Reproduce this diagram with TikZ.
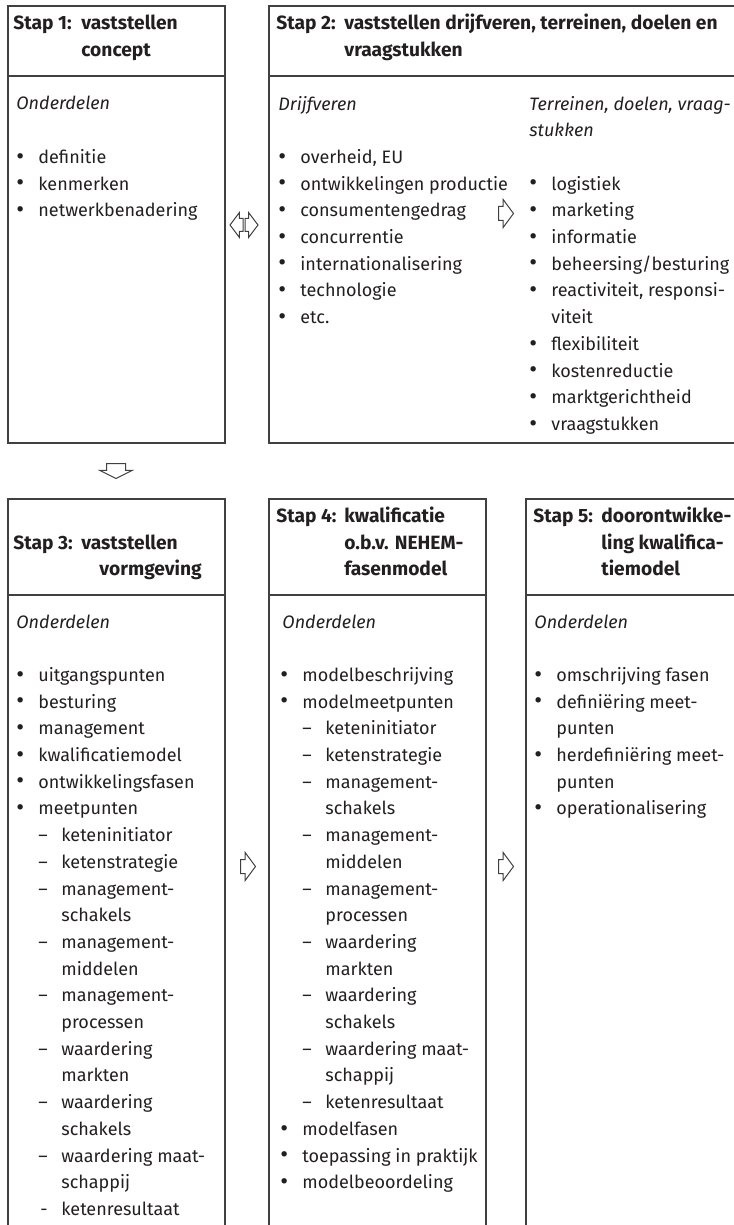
\documentclass[tikz,border=0pt]{standalone}
\usepackage{fontspec}
\setmainfont{Fira Sans}
\usetikzlibrary{shapes.arrows}
\definecolor{inkBlack}{HTML}{231F20}
\definecolor{lineGrey}{HTML}{404040}
\newcommand{\stap}[1]{\makebox[34pt][l]{Stap #1:}}
\newcommand{\hang}{\hspace*{34pt}}
\newcommand{\bolletje}{\raisebox{-0.35pt}{\fontsize{12}{0}\selectfont\textbullet}}
\newcommand{\bul}[1]{\makebox[11pt][l]{\bolletje}#1}
\newcommand{\bulnext}[1]{\hspace*{11pt}#1}
\newcommand{\dsh}[1]{\hspace*{11pt}\makebox[11.5pt][l]{\textendash}#1}
\newcommand{\dshnext}[1]{\hspace*{22.5pt}#1}

\begin{document}
\begin{tikzpicture}[x=0.5pt, y=-0.5pt,
   stapbox/.style={rectangle, draw=lineGrey, line width=0.8pt,
                   anchor=north west, inner sep=0pt},
   kop/.style={anchor=base west, inner sep=0pt, align=left, text=inkBlack,
               font=\fontsize{9.6}{13.35}\selectfont\bfseries},
   lijst/.style={anchor=base west, inner sep=0pt, align=left, text=inkBlack,
                 font=\fontsize{9}{13.35}\selectfont},
   pijl/.style={single arrow, draw=lineGrey, line width=0.5pt, anchor=tail,
                inner xsep=0pt, inner ysep=3.25pt, minimum width=0pt,
                minimum height=7.5pt, single arrow head extend=3.5pt,
                single arrow tip angle=107}]
\useasboundingbox (0,0) rectangle (733,1225);

% boxes
\node[stapbox, minimum width=108.5pt, minimum height=218.5pt] (box1) at (7,5) {};
\node[stapbox, minimum width=251pt, minimum height=218.5pt] (box2) at (268,5) {};
\node[stapbox, minimum width=108.5pt, minimum height=381pt] (box3) at (7,498) {};
\node[stapbox, minimum width=108.5pt, minimum height=381pt] (box4) at (268,498) {};
\node[stapbox, minimum width=122.5pt, minimum height=381pt] (box5) at (525,498) {};

\foreach \b/\y in {box1/76, box2/76, box3/595, box4/595, box5/595}
  \draw[lineGrey, line width=0.8pt] (\b.west |- 0,\y) -- (\b.east |- 0,\y);

% headers (base = last line)
\node[kop] (kop1) at (13,56.7) {\stap{1}vaststellen\\\hang concept};
\node[kop] (kop2) at (276,56.7)
  {\stap{2}vaststellen drijfveren, terreinen, doelen en\\\hang vraagstukken};
\node[kop] (kop3) at (13,575.9) {\stap{3}vaststellen\\\hang\hspace*{9pt}vormgeving};
\node[kop] (kop4) at (276,575.9)
  {\stap{4}kwalificatie\\\hang o.b.v. NEHEM-\\\hang fasenmodel};
\node[kop] (kop5) at (533,575.9)
  {\stap{5}doorontwikke-\\\hang ling kwalifica-\\\hang tiemodel};

% contents (base = last line)
\node[lijst] (inh1) at (16,216.8)
  {\textit{Onderdelen}\\[13.35pt]
   \bul{definitie}\\
   \bul{kenmerken}\\
   \bul{netwerkbenadering}};
\node[lijst] (inh2a) at (278,323.6)
  {\textit{Drijfveren}\\[13.35pt]
   \bul{overheid, EU}\\
   \bul{ontwikkelingen productie}\\
   \bul{consumentengedrag}\\
   \bul{concurrentie}\\
   \bul{internationalisering}\\
   \bul{technologie}\\
   \bul{etc.}};
\node[lijst] (inh2b) at (529,430.4)
  {\textit{Terreinen, doelen, vraag-}\\
   \textit{stukken}\\[13.35pt]
   \bul{logistiek}\\
   \bul{marketing}\\
   \bul{informatie}\\
   \bul{beheersing/besturing}\\
   \bul{reactiviteit, responsi-}\\
   \bulnext{viteit}\\
   \bul{flexibiliteit}\\
   \bul{kostenreductie}\\
   \bul{marktgerichtheid}\\
   \bul{vraagstukken}};
\node[lijst] (inh3) at (16,1215.4)
  {\textit{Onderdelen}\\[13.35pt]
   \bul{uitgangspunten}\\
   \bul{besturing}\\
   \bul{management}\\
   \bul{kwalificatiemodel}\\
   \bul{ontwikkelingsfasen}\\
   \bul{meetpunten}\\
   \dsh{keteninitiator}\\
   \dsh{ketenstrategie}\\
   \dsh{management-}\\
   \dshnext{schakels}\\
   \dsh{management-}\\
   \dshnext{middelen}\\
   \dsh{management-}\\
   \dshnext{processen}\\
   \dsh{waardering}\\
   \dshnext{markten}\\
   \dsh{waardering}\\
   \dshnext{schakels}\\
   \dsh{waardering maat-}\\
   \dshnext{schappij}\\
   \hspace*{11pt}\makebox[11.5pt][l]{\hspace{1pt}-}ketenresultaat};
\node[lijst] (inh4) at (280,1188.7)
  {\hspace*{1pt}\textit{Onderdelen}\\[13.35pt]
   \bul{modelbeschrijving}\\
   \bul{modelmeetpunten}\\
   \dsh{keteninitiator}\\
   \dsh{ketenstrategie}\\
   \dsh{management-}\\
   \dshnext{schakels}\\
   \dsh{management-}\\
   \dshnext{middelen}\\
   \dsh{management-}\\
   \dshnext{processen}\\
   \dsh{waardering}\\
   \dshnext{markten}\\
   \dsh{waardering}\\
   \dshnext{schakels}\\
   \dsh{waardering maat-}\\
   \dshnext{schappij}\\
   \dsh{ketenresultaat}\\
   \bul{modelfasen}\\
   \bul{toepassing in praktijk}\\
   \bul{modelbeoordeling}};
\node[lijst] (inh5) at (534,814.9)
  {\textit{Onderdelen}\\[13.35pt]
   \bul{omschrijving fasen}\\
   \bul{definiëring meet-}\\
   \bulnext{punten}\\
   \bul{herdefiniëring meet-}\\
   \bulnext{punten}\\
   \bul{operationalisering}};

% block arrows
\node[pijl, inner ysep=3pt, single arrow head extend=3pt, minimum height=6.5pt,
      single arrow tip angle=106] (p12) at (244.5,225) {};
\node[pijl, rotate=180, inner ysep=3pt, single arrow head extend=3pt,
      minimum height=6.5pt, single arrow tip angle=106] (p21) at (243.5,225) {};
\node[pijl] (p2) at (498,213.5) {};
\node[pijl, rotate=-90, inner ysep=4.5pt, single arrow tip angle=127] (p13) at (116,463) {};
\node[pijl] (p34) at (240,866.5) {};
\node[pijl] (p45) at (498,866.5) {};
\end{tikzpicture}
\end{document}
